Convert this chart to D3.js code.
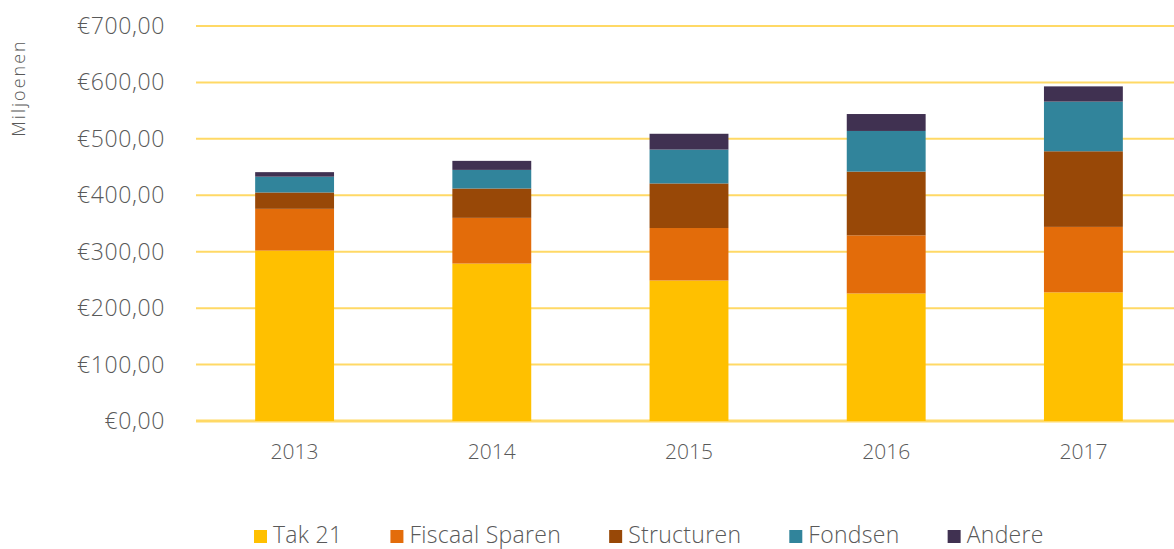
<!DOCTYPE html>
<html>
<head>
<meta charset="utf-8">
<script src="https://cdn.jsdelivr.net/npm/d3@7"></script>
<style>
  body { margin: 0; background: #fff; }
  svg text { font-family: "Open Sans", "Lato", sans-serif; font-weight: 300; fill: #595959; }
</style>
</head>
<body>
<div id="chart"></div>
<script>
// data (miljoenen euro)
var years = ["2013", "2014", "2015", "2016", "2017"];
var seriesNames = ["Tak 21", "Fiscaal Sparen", "Structuren", "Fondsen", "Andere"];
var tak21 = [302, 279, 249, 226, 228];
var fiscaalSparen = [74, 81, 93, 103, 116];
var structuren = [29, 52, 79, 113, 134];
var fondsen = [28, 33, 60, 72, 88];
var andere = [8, 16, 28, 30, 27];
var yTicks = [0, 100, 200, 300, 400, 500, 600, 700];
var colors = ["#FFC000", "#E36C0A", "#984807", "#31849B", "#403151"];

var W = 1174, H = 549;
var plotLeft = 196;

// build rows for d3.stack
var seriesValues = [tak21, fiscaalSparen, structuren, fondsen, andere];
var rows = years.map(function(y, i) {
  var r = {year: y};
  seriesNames.forEach(function(s, k) { r[s] = seriesValues[k][i]; });
  return r;
});

var svg = d3.select("#chart").append("svg")
  .attr("width", W).attr("height", H);

var x = d3.scaleBand()
  .domain(years)
  .range([plotLeft, 1182])
  .paddingInner(0.6)
  .paddingOuter(0.3);

var y = d3.scaleLinear()
  .domain([0, 700])
  .range([421, 26]);

// gridlines
svg.append("g").selectAll("line")
  .data(yTicks)
  .enter().append("line")
  .attr("x1", plotLeft).attr("x2", W)
  .attr("y1", function(d) { return y(d); })
  .attr("y2", function(d) { return y(d); })
  .attr("stroke", "#FFD966")
  .attr("stroke-width", function(d) { return d === 0 ? 3 : 2; });

// y tick labels
var fmt = function(d) { return "€" + d + ",00"; };
svg.append("g").selectAll("text")
  .data(yTicks)
  .enter().append("text")
  .attr("x", 165)
  .attr("y", function(d) { return y(d); })
  .attr("dy", "0.35em")
  .attr("text-anchor", "end")
  .style("font-size", "23px")
  .style("letter-spacing", "0.6px")
  .text(fmt);

// y axis title
svg.append("text")
  .attr("transform", "translate(25,88) rotate(-90)")
  .attr("text-anchor", "middle")
  .style("font-size", "18px")
  .style("letter-spacing", "2px")
  .text("Miljoenen");

// stacked bars
var stack = d3.stack().keys(seriesNames);
var layers = stack(rows);

svg.append("g").selectAll("g")
  .data(layers)
  .enter().append("g")
  .attr("fill", function(d, i) { return colors[i]; })
  .selectAll("rect")
  .data(function(d) { return d; })
  .enter().append("rect")
  .attr("x", function(d) { return x(d.data.year); })
  .attr("width", x.bandwidth())
  .attr("y", function(d) { return y(d[1]); })
  .attr("height", function(d) { return y(d[0]) - y(d[1]); });

// x labels
svg.append("g").selectAll("text")
  .data(years)
  .enter().append("text")
  .attr("x", function(d) { return x(d) + x.bandwidth() / 2; })
  .attr("y", 452)
  .attr("dy", "0.35em")
  .attr("text-anchor", "middle")
  .style("font-size", "21px")
  .text(function(d) { return d; });

// legend
var legend = svg.append("g");
var lx = 254;
seriesNames.forEach(function(s, i) {
  legend.append("rect")
    .attr("x", lx).attr("y", 530)
    .attr("width", 13).attr("height", 13)
    .attr("fill", colors[i]);
  var t = legend.append("text")
    .attr("x", lx + 19).attr("y", 535)
    .attr("dy", "0.35em")
    .style("font-size", "23px")
    .style("letter-spacing", "0.3px")
    .text(s);
  lx += 19 + t.node().getComputedTextLength() + 48;
});
</script>
</body>
</html>
